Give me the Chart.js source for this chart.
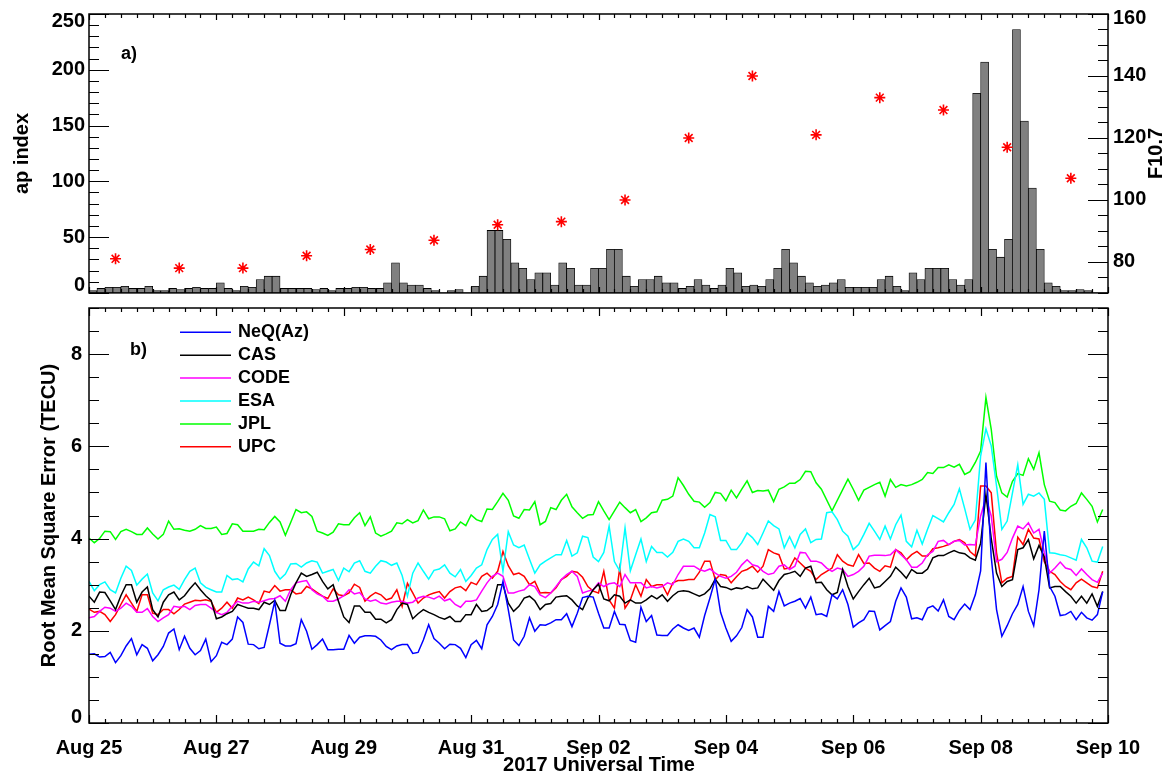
<!DOCTYPE html>
<html>
<head>
<meta charset="utf-8">
<script src="https://cdn.jsdelivr.net/npm/chart.js@4.4.1/dist/chart.umd.min.js"></script>
<style>
  html, body { margin: 0; padding: 0; background: #fff; }
  #wrap { position: relative; width: 1168px; height: 776px; }
  canvas { position: absolute; left: 0; }
  #apChart { top: 0; }
  #rmsChart { top: 300px; }
</style>
</head>
<body>
<div id="wrap">
  <canvas id="apChart" width="1168" height="300"></canvas>
  <canvas id="rmsChart" width="1168" height="476"></canvas>
</div>
<script>
// Day labels on the time axis (every second day, Aug 25 - Sep 10 2017)
const dayLabels = ['Aug 25', 'Aug 27', 'Aug 29', 'Aug 31', 'Sep 02', 'Sep 04', 'Sep 06', 'Sep 08', 'Sep 10'];

// 3-hourly ap index, starting Aug 25 00 UT
const apIndex = [
  2, 4, 5, 5, 6, 4, 4, 6,   2, 2, 4, 3, 4, 5, 4, 4,
  9, 4, 2, 6, 5, 12, 15, 15,   4, 4, 4, 4, 3, 4, 2, 4,
  4, 5, 5, 4, 4, 9, 27, 9,   7, 7, 4, 2, 0, 2, 3, 0,
  6, 15, 56, 56, 48, 27, 22, 12,   18, 18, 7, 27, 22, 7, 7, 22,
  22, 39, 39, 15, 6, 12, 12, 15,   9, 9, 4, 6, 12, 7, 4, 7,
  22, 18, 6, 7, 6, 12, 22, 39,   27, 15, 9, 6, 7, 9, 12, 5,
  5, 5, 5, 12, 15, 6, 2, 18,   12, 22, 22, 22, 12, 7, 12, 179,
  207, 39, 32, 48, 236, 154, 94, 39,   9, 6, 2, 2, 3, 2, 0, 0
];

// daily F10.7 solar flux
const f107 = [81, 78, 78, 82, 84, 87, 92, 93, 100, 120, 140, 121, 133, 129, 117, 107];

// 2-hourly RMS error (TECU) of each model, one row per day
const neqAz = [
  1.49, 1.5, 1.43, 1.44, 1.53, 1.31, 1.46, 1.67, 1.83, 1.48, 1.7, 1.62,
  1.35, 1.48, 1.66, 1.95, 2.04, 1.59, 1.88, 1.62, 1.48, 1.57, 1.82, 1.33,
  1.46, 1.75, 1.7, 1.82, 2.3, 2.18, 1.71, 1.7, 1.61, 1.64, 2.13, 2.64,
  1.73, 1.67, 1.67, 1.72, 2.24, 1.99, 1.6, 1.7, 1.82, 1.59, 1.59, 1.6,
  1.6, 1.9, 1.73, 1.86, 1.89, 1.89, 1.88, 1.8, 1.66, 1.59, 1.67, 1.7,
  1.7, 1.51, 1.53, 1.8, 2.13, 1.83, 1.73, 1.61, 1.71, 1.7, 1.62, 1.42,
  1.7, 1.79, 1.61, 2.13, 2.31, 2.57, 3.07, 2.46, 1.8, 1.68, 1.88, 2.28,
  1.99, 2.13, 2.12, 2.17, 2.24, 2.24, 2.37, 2.09, 2.38, 2.72, 2.75, 2.73,
  2.38, 2.06, 2.06, 2.42, 2.14, 2.13, 1.79, 1.75, 2.51, 2.2, 2.33, 1.91,
  1.9, 1.9, 2.04, 2.13, 2.06, 2.01, 2.06, 1.86, 2.33, 2.71, 3.12, 2.4,
  2.06, 1.77, 1.89, 2.07, 2.46, 2.3, 1.86, 1.86, 2.53, 2.42, 2.85, 2.54,
  2.6, 2.64, 2.7, 2.49, 2.73, 2.35, 2.37, 2.31, 2.78, 2.69, 2.89, 2.57,
  2.08, 2.17, 2.24, 2.43, 2.42, 2.02, 2.11, 2.2, 2.64, 2.93, 2.73, 2.26,
  2.28, 2.24, 2.49, 2.54, 2.43, 2.67, 2.31, 2.24, 2.44, 2.58, 2.46, 2.78,
  3.3, 5.65, 3.6, 2.46, 1.88, 2.11, 2.37, 2.57, 2.96, 2.42, 2.11, 2.89,
  4.16, 2.96, 2.75, 2.33, 2.35, 2.42, 2.24, 2.4, 2.28, 2.23, 2.35, 2.85
];
const cas = [
  2.75, 2.62, 2.84, 2.83, 2.65, 2.46, 2.76, 3.0, 3.0, 2.62, 2.84, 2.95,
  2.46, 2.3, 2.62, 2.78, 2.84, 2.67, 2.76, 2.91, 3.04, 2.89, 2.76, 2.66,
  2.26, 2.3, 2.37, 2.42, 2.57, 2.53, 2.49, 2.49, 2.46, 2.62, 2.57, 2.66,
  2.44, 2.44, 2.78, 3.04, 3.25, 3.18, 3.22, 3.27, 3.07, 2.91, 3.0, 2.64,
  2.3, 2.18, 2.54, 2.54, 2.4, 2.4, 2.25, 2.25, 2.17, 2.24, 2.46, 2.6,
  2.57, 2.26, 2.37, 2.46, 2.4, 2.35, 2.29, 2.25, 2.31, 2.2, 2.2, 2.35,
  2.35, 2.57, 2.42, 2.44, 2.53, 3.0, 3.0, 2.6, 2.42, 2.53, 2.71, 2.75,
  2.65, 2.46, 2.57, 2.59, 2.73, 2.75, 2.76, 2.67, 2.54, 2.46, 2.71, 2.89,
  3.01, 2.69, 2.65, 2.78, 2.75, 2.6, 2.67, 2.6, 2.6, 2.67, 2.76, 2.69,
  2.78, 2.64, 2.76, 2.85, 2.87, 2.85, 2.8, 2.75, 2.8, 2.91, 3.12, 2.96,
  2.94, 2.89, 2.93, 2.91, 2.96, 2.91, 2.93, 3.12, 3.0, 2.88, 3.09, 3.22,
  3.25, 3.29, 3.18, 3.36, 3.4, 3.04, 3.05, 2.89, 2.78, 2.83, 3.33, 2.96,
  2.69, 2.85, 3.0, 3.14, 2.93, 2.96, 3.07, 3.18, 3.38, 3.27, 3.14, 3.33,
  3.25, 3.25, 3.34, 3.58, 3.63, 3.63, 3.69, 3.74, 3.69, 3.67, 3.58, 3.53,
  3.9, 4.96, 4.0, 3.25, 2.96, 3.07, 3.11, 3.76, 3.8, 3.98, 3.56, 3.85,
  3.6, 2.93, 2.96, 2.96, 2.85, 2.75, 2.6, 2.75, 2.6, 2.8, 2.53, 2.85
];
const code = [
  2.28, 2.31, 2.42, 2.51, 2.49, 2.42, 2.49, 2.6, 2.53, 2.4, 2.4, 2.48,
  2.31, 2.2, 2.28, 2.35, 2.53, 2.51, 2.53, 2.46, 2.55, 2.57, 2.57, 2.49,
  2.4, 2.35, 2.4, 2.53, 2.64, 2.6, 2.6, 2.64, 2.62, 2.65, 2.69, 2.7,
  2.76, 2.64, 2.89, 3.04, 3.07, 3.09, 2.89, 2.8, 2.75, 2.64, 2.64, 2.69,
  2.76, 2.89, 2.8, 2.83, 2.69, 2.64, 2.67, 2.6, 2.58, 2.62, 2.64, 2.64,
  2.6, 2.62, 2.71, 2.75, 2.73, 2.69, 2.75, 2.65, 2.69, 2.57, 2.51, 2.64,
  2.64, 2.67, 2.86, 3.04, 3.18, 3.25, 3.18, 2.82, 2.82, 2.86, 2.89, 3.0,
  2.96, 2.78, 2.72, 2.82, 2.96, 3.11, 3.22, 3.29, 3.18, 2.82, 2.86, 2.89,
  3.04, 2.96, 3.02, 3.04, 2.96, 3.22, 3.04, 3.04, 3.04, 2.93, 2.96, 2.93,
  2.96, 3.04, 3.0, 3.22, 3.4, 3.4, 3.4, 3.33, 3.29, 3.34, 3.25, 3.18,
  3.14, 3.18, 3.27, 3.43, 3.54, 3.43, 3.4, 3.29, 3.22, 3.25, 3.4, 3.43,
  3.33, 3.4, 3.7, 3.69, 3.51, 3.51, 3.47, 3.36, 3.29, 3.36, 3.33, 3.18,
  3.22, 3.29, 3.4, 3.62, 3.64, 3.64, 3.63, 3.65, 3.76, 3.65, 3.54, 3.38,
  3.38, 3.47, 3.65, 3.72, 3.94, 3.96, 3.87, 3.94, 3.96, 3.86, 3.87, 3.86,
  4.49, 4.88, 4.49, 3.5, 3.55, 3.7, 4.01, 4.27, 4.21, 4.34, 4.12, 4.2,
  3.7, 3.25, 3.36, 3.49, 3.36, 3.33, 3.2, 3.34, 3.22, 3.11, 3.05, 3.25
];
const esa = [
  3.07, 2.87, 3.0, 3.06, 2.89, 2.82, 3.14, 3.4, 3.31, 2.99, 3.12, 3.23,
  2.82, 2.65, 2.89, 2.95, 2.99, 2.9, 3.11, 3.29, 3.36, 3.04, 2.94, 2.89,
  2.84, 2.84, 3.2, 3.11, 3.13, 3.06, 3.34, 3.49, 3.41, 3.78, 3.63, 3.29,
  3.12, 3.23, 3.45, 3.46, 3.38, 3.47, 3.52, 3.49, 3.25, 3.29, 3.33, 3.09,
  3.36, 3.28, 3.47, 3.52, 3.29, 3.25, 3.4, 3.52, 3.49, 3.42, 3.47, 3.2,
  2.75, 3.25, 3.47, 3.29, 3.12, 3.31, 3.34, 3.43, 3.25, 3.17, 3.33, 3.07,
  3.2, 3.36, 3.43, 3.76, 3.98, 4.09, 3.29, 4.15, 3.86, 3.8, 3.86, 3.55,
  3.25, 3.43, 3.51, 3.58, 3.65, 3.65, 3.96, 3.62, 3.69, 4.05, 4.02, 3.6,
  3.5, 3.7, 4.27, 3.5, 3.3, 4.23, 3.3, 3.65, 3.99, 3.5, 3.83, 3.7,
  3.7, 3.6, 3.7, 3.94, 3.99, 3.94, 3.8, 3.8, 4.12, 4.52, 4.47, 3.96,
  3.96, 3.76, 3.76, 3.91, 4.12, 4.02, 3.87, 4.12, 4.38, 4.28, 4.21, 3.8,
  4.04, 3.8, 4.09, 4.21, 3.91, 3.98, 3.99, 4.56, 4.58, 4.41, 4.16, 4.05,
  3.76, 3.87, 4.09, 4.33, 4.16, 3.98, 4.27, 3.99, 4.3, 4.51, 3.94, 3.82,
  4.18, 3.88, 4.2, 4.5, 4.43, 4.36, 4.56, 4.74, 5.08, 4.65, 4.2, 4.4,
  5.79, 6.38, 6.01, 5.14, 4.2, 4.38, 4.99, 5.6, 4.74, 4.96, 4.92, 4.99,
  4.85, 3.69, 3.68, 3.65, 3.63, 3.58, 3.53, 3.98, 3.8, 3.51, 3.49, 3.83
];
const jpl = [
  4.01, 3.91, 4.0, 4.16, 4.15, 3.98, 4.15, 4.2, 4.15, 4.09, 4.09, 4.23,
  4.1, 3.99, 4.09, 4.38, 4.2, 4.21, 4.18, 4.16, 4.2, 4.28, 4.22, 4.22,
  4.25, 4.09, 4.11, 4.32, 4.3, 4.16, 4.16, 4.16, 4.2, 4.19, 4.35, 4.48,
  4.36, 4.07, 4.35, 4.63, 4.56, 4.58, 4.48, 4.16, 4.12, 4.07, 4.14, 4.32,
  4.3, 4.3, 4.45, 4.56, 4.28, 4.47, 4.12, 4.05, 4.1, 4.16, 4.34, 4.32,
  4.41, 4.34, 4.39, 4.62, 4.43, 4.47, 4.47, 4.43, 4.17, 4.21, 4.36, 4.28,
  4.51, 4.41, 4.37, 4.64, 4.63, 4.8, 4.98, 4.83, 4.49, 4.44, 4.63, 4.62,
  4.8, 4.3, 4.37, 4.67, 4.63, 4.83, 4.96, 4.69, 4.56, 4.44, 4.51, 4.52,
  4.8, 4.6, 4.41, 4.6, 4.79, 4.67, 4.56, 4.63, 4.37, 4.45, 4.56, 4.58,
  4.83, 4.85, 4.92, 5.32, 5.15, 4.96, 4.81, 4.79, 4.68, 4.78, 5.0, 4.98,
  4.82, 5.05, 4.88, 5.07, 5.25, 5.0, 5.04, 5.03, 5.05, 4.8, 5.07, 5.12,
  5.2, 5.2, 5.28, 5.46, 5.45, 5.21, 5.07, null, 4.6, null, null, 5.29,
  5.07, 4.83, 5.05, 5.11, 5.17, 5.22, 4.92, 5.28, 5.11, 5.17, 5.14, 5.17,
  5.22, 5.28, 5.43, 5.41, 5.54, 5.54, 5.6, 5.55, 5.61, 5.39, 5.45, 5.65,
  5.9, 7.06, 6.37, 5.35, 4.99, 4.9, 5.24, 5.41, 5.37, 5.73, 5.5, 5.86,
  5.17, 4.81, 4.78, 4.62, 4.6, 4.7, 4.76, 4.99, 4.85, 4.7, 4.36, 4.63
];
const upc = [
  2.47, 2.4, 2.42, 2.35, 2.2, 2.35, 2.57, 2.78, 2.6, 2.42, 2.78, 2.78,
  2.38, 2.35, 2.46, 2.46, 2.37, 2.46, 2.58, 2.62, 2.66, 2.65, 2.67, 2.64,
  2.4, 2.49, 2.62, 2.49, 2.71, 2.67, 2.73, 2.67, 2.59, 2.86, 2.83, 2.98,
  2.86, 2.89, 2.89, 2.8, 2.82, 2.96, 2.91, 2.83, 2.75, 2.7, 2.91, 2.78,
  2.76, 2.82, 3.01, 2.94, 2.64, 2.75, 2.83, 2.78, 2.67, 2.71, 2.89, 2.53,
  3.03, 2.82, 2.6, 2.71, 2.78, 2.82, 2.85, 2.71, 2.85, 2.93, 2.96, 2.87,
  3.05, 3.0, 3.18, 3.25, 3.14, 3.29, 3.72, 3.41, 3.22, 3.25, 3.18, 3.0,
  3.07, 2.82, 2.83, 2.82, 2.93, 3.11, 3.18, 3.29, 3.27, 3.16, 2.96, 2.86,
  2.82, 3.29, 2.67, 2.49, 3.36, 2.49, 2.67, 3.0, 2.75, 3.11, 2.96, 3.0,
  3.0, 2.78, 3.04, 3.09, 3.09, 3.11, 3.11, 3.27, 3.51, 3.51, 3.11, 3.22,
  3.2, 3.04, 3.17, 3.29, 3.33, 3.4, 3.27, 3.4, 3.76, 3.69, 3.65, 3.34,
  3.36, 3.58, 3.47, 3.36, 3.29, 3.11, 3.22, 3.29, 3.36, 3.65, 3.51, 3.43,
  3.4, 3.65, 3.46, 3.47, 3.36, 3.29, 3.41, 3.38, 3.76, 3.69, 3.54, 3.65,
  3.72, 3.62, 3.62, 3.78, 3.8, 3.83, 3.87, 3.94, 3.98, 3.91, 3.72, 3.62,
  5.14, 5.14, 4.99, 3.69, 3.04, 3.14, 3.18, 4.03, 3.87, 4.2, 4.01, 3.99,
  3.5, 3.29, 3.22, 3.07, 2.96, 2.89, 3.04, 3.12, 3.04, 2.96, 2.93, 3.29
];

const fontFamily = "'Liberation Sans', Arial, Helvetica, sans-serif";
Chart.defaults.font.family = fontFamily;
Chart.defaults.font.size = 20;
Chart.defaults.font.weight = 'bold';
Chart.defaults.color = '#000';

// x values are hours after Aug 25 00 UT
const apPoints = apIndex.map((v, i) => ({ x: i * 3 + 1.5, y: v }));
const f107Points = f107.map((v, i) => ({ x: i * 24 + 10, y: v }));
const toHours = arr => arr.map((v, j) => ({ x: j * 2, y: v }));

// keep the plot box exactly where the axis widths put it (no label overhang padding)
function fixBox(size, isWidth) {
  return s => {
    if (isWidth) s.width = size; else s.height = size;
    s.paddingTop = 0;
    s.paddingBottom = 0;
    s.paddingLeft = 0;
    s.paddingRight = 0;
  };
}

// Box frame with inward ticks on all four sides
const frameTicks = {
  id: 'frameTicks',
  afterDatasetsDraw(chart, args, opts) {
    const { ctx, chartArea: area, scales } = chart;
    ctx.save();
    ctx.strokeStyle = '#000';
    ctx.lineWidth = 1.2;
    ctx.beginPath();
    const xs = scales.x;
    for (let h = 0; h <= 384; h += 6) {
      const px = Math.round(xs.getPixelForValue(h)) + 0.5;
      const len = h % 48 === 0 ? opts.xMajor : opts.xMinor;
      ctx.moveTo(px, area.bottom);
      ctx.lineTo(px, area.bottom - len);
      ctx.moveTo(px, area.top);
      ctx.lineTo(px, area.top + len);
    }
    opts.yAxes.forEach(ax => {
      const s = scales[ax.id];
      const x0 = ax.side === 'left' ? area.left : area.right;
      const dir = ax.side === 'left' ? 1 : -1;
      const steps = Math.round((s.max - s.min) / ax.minor);
      for (let k = 0; k <= steps; k++) {
        const v = s.min + k * ax.minor;
        const major = Math.abs(v / ax.major - Math.round(v / ax.major)) < 1e-6;
        const py = Math.round(s.getPixelForValue(v)) + 0.5;
        ctx.moveTo(x0, py);
        ctx.lineTo(x0 + dir * (major ? 20 : 10), py);
      }
    });
    ctx.stroke();
    ctx.lineWidth = 1.5;
    ctx.strokeRect(area.left, area.top, area.right - area.left, area.bottom - area.top);
    ctx.restore();
  }
};

// Axis titles, panel letters and the line legend
const panelText = {
  id: 'panelText',
  afterDraw(chart, args, opts) {
    const { ctx } = chart;
    ctx.save();
    ctx.fillStyle = '#000';
    ctx.textBaseline = 'middle';
    (opts.items || []).forEach(t => {
      ctx.save();
      ctx.font = `bold ${t.size}px ${fontFamily}`;
      ctx.translate(t.x, t.y);
      if (t.rotate) ctx.rotate(-Math.PI / 2);
      ctx.textAlign = t.align || 'center';
      ctx.fillText(t.text, 0, 0);
      ctx.restore();
    });
    const lg = opts.legend;
    if (lg) {
      chart.data.datasets.forEach((ds, i) => {
        const y = lg.y + i * lg.gap;
        ctx.strokeStyle = ds.borderColor;
        ctx.lineWidth = 1.5;
        ctx.beginPath();
        ctx.moveTo(lg.x, y);
        ctx.lineTo(lg.x + lg.len, y);
        ctx.stroke();
        ctx.font = `bold 18px ${fontFamily}`;
        ctx.textAlign = 'left';
        ctx.fillText(ds.label, lg.x + lg.len + 7, y);
      });
    }
    ctx.restore();
  }
};

const noGrid = { display: false, drawTicks: false };

// Panel a: ap index bars with F10.7 on the right axis
new Chart(document.getElementById('apChart'), {
  type: 'bar',
  data: {
    datasets: [
      {
        type: 'line',
        label: 'F10.7',
        data: f107Points,
        yAxisID: 'y2',
        showLine: false,
        pointStyle: 'star',
        pointRadius: 5.5,
        pointBorderWidth: 1.6,
        borderColor: '#ff0000',
        backgroundColor: '#ff0000',
        order: 0
      },
      {
        type: 'bar',
        label: 'ap',
        data: apPoints,
        yAxisID: 'y',
        backgroundColor: '#808080',
        borderColor: '#000',
        borderWidth: 0.8,
        barPercentage: 1,
        categoryPercentage: 1,
        order: 1
      }
    ]
  },
  options: {
    responsive: false,
    animation: false,
    layout: { padding: { top: 14, left: 0, right: 0, bottom: 0 } },
    plugins: {
      legend: { display: false },
      tooltip: { enabled: false },
      frameTicks: {
        xMajor: 6, xMinor: 4,
        yAxes: [
          { id: 'y', side: 'left', major: 50, minor: 10 },
          { id: 'y2', side: 'right', major: 20, minor: 5 }
        ]
      },
      panelText: {
        items: [
          { text: 'a)', x: 121, y: 54, size: 18, align: 'left' },
          { text: 'ap index', x: 22, y: 153.5, size: 20, rotate: true },
          { text: 'F10.7', x: 1156, y: 153.5, size: 20, rotate: true }
        ]
      }
    },
    scales: {
      x: {
        type: 'linear', min: 0, max: 384, offset: false,
        grid: noGrid, border: { display: false },
        ticks: { display: false },
        afterFit: fixBox(7, false)
      },
      y: {
        position: 'left', min: 0, max: 250,
        grid: noGrid, border: { display: false },
        ticks: {
          stepSize: 50, padding: 4,
          font: { size: 20, weight: 'bold', lineHeight: 0.75 },
          callback: v => v === 250 ? ['', '250'] : v === 0 ? ['0', ''] : String(v)
        },
        afterFit: fixBox(89, true)
      },
      y2: {
        position: 'right', min: 70, max: 160,
        grid: noGrid, border: { display: false },
        ticks: {
          stepSize: 20, padding: 5,
          font: { size: 20, weight: 'bold', lineHeight: 0.4 },
          callback: v => v === 70 ? null : v === 160 ? ['', '160'] : String(v)
        },
        afterFit: fixBox(60, true)
      }
    }
  },
  plugins: [frameTicks, panelText]
});

// Panel b: RMS error of the ionosphere models
const models = [
  { label: 'NeQ(Az)', data: neqAz, color: '#0000ff' },
  { label: 'CAS', data: cas, color: '#000000' },
  { label: 'CODE', data: code, color: '#ff00ff' },
  { label: 'ESA', data: esa, color: '#00ffff' },
  { label: 'JPL', data: jpl, color: '#00ff00' },
  { label: 'UPC', data: upc, color: '#ff0000' }
];

new Chart(document.getElementById('rmsChart'), {
  type: 'line',
  data: {
    datasets: models.map(m => ({
      label: m.label,
      data: toHours(m.data),
      borderColor: m.color,
      backgroundColor: m.color,
      borderWidth: 1.5,
      pointRadius: 0,
      tension: 0,
      spanGaps: true
    }))
  },
  options: {
    responsive: false,
    animation: false,
    layout: { padding: { top: 8, left: 0, right: 60, bottom: 0 } },
    plugins: {
      legend: { display: false },
      tooltip: { enabled: false },
      frameTicks: {
        xMajor: 8, xMinor: 4,
        yAxes: [
          { id: 'y', side: 'left', major: 2, minor: 0.5 },
          { id: 'y', side: 'right', major: 2, minor: 0.5 }
        ]
      },
      panelText: {
        items: [
          { text: 'b)', x: 130, y: 50, size: 18, align: 'left' },
          { text: 'Root Mean Square Error (TECU)', x: 49, y: 215.5, size: 20, rotate: true },
          { text: '2017 Universal Time', x: 599, y: 465, size: 20 }
        ],
        legend: { x: 180, len: 51, y: 32.3, gap: 22.9 }
      }
    },
    scales: {
      x: {
        type: 'linear', min: 0, max: 384,
        grid: noGrid, border: { display: false },
        ticks: {
          stepSize: 48, autoSkip: false, maxRotation: 0, padding: 13,
          callback: v => dayLabels[Math.round(v / 48)]
        },
        afterFit: fixBox(53, false)
      },
      y: {
        min: 0, max: 9,
        grid: noGrid, border: { display: false },
        ticks: {
          stepSize: 2, padding: 7,
          font: { size: 20, weight: 'bold', lineHeight: 0.6 },
          callback: v => v === 9 ? null : v === 0 ? ['0', ''] : String(v)
        },
        afterFit: fixBox(89, true)
      }
    }
  },
  plugins: [frameTicks, panelText]
});
</script>
</body>
</html>
